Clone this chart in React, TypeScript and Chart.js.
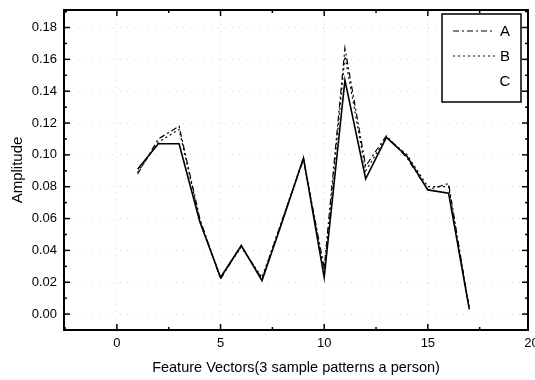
import React, { useEffect, useRef } from "react";
import { Chart, registerables } from "chart.js";

Chart.register(...registerables);

const X_VALUES = [1, 2, 3, 4, 5, 6, 7, 8, 9, 10, 11, 12, 13, 14, 15, 16, 17];
const SERIES_A = [0.088, 0.110, 0.118, 0.060, 0.022, 0.043, 0.022, 0.060, 0.097, 0.029, 0.167, 0.093, 0.112, 0.098, 0.078, 0.082, 0.003];
const SERIES_B = [0.089, 0.108, 0.116, 0.059, 0.023, 0.042, 0.023, 0.060, 0.098, 0.026, 0.162, 0.090, 0.111, 0.100, 0.080, 0.080, 0.003];
const SERIES_C = [0.091, 0.107, 0.107, 0.058, 0.023, 0.043, 0.021, 0.059, 0.098, 0.023, 0.147, 0.085, 0.111, 0.099, 0.078, 0.076, 0.003];
const SERIES_NAMES = ["A", "B", "C"];
const X_TICKS = [0, 5, 10, 15, 20];
const X_MINOR_TICKS = [-2.5, 2.5, 7.5, 12.5, 17.5];
const Y_TICKS = [0, 0.02, 0.04, 0.06, 0.08, 0.1, 0.12, 0.14, 0.16, 0.18];
const Y_MINOR_TICKS = [0.01, 0.03, 0.05, 0.07, 0.09, 0.11, 0.13, 0.15, 0.17, 0.19];
const X_MIN = -2.55;
const X_MAX = 19.83;
const Y_MIN = -0.01;
const Y_MAX = 0.191;
const X_TITLE = "Feature Vectors(3 sample patterns a person)";
const Y_TITLE = "Amplitude";

const FONT = "'Liberation Sans', Arial, sans-serif";

const framePlugin = {
  id: "frame",
  afterDatasetsDraw(chart: any) {
    const { ctx, chartArea: a, scales } = chart;
    const xs = scales.x;
    const ys = scales.y;
    ctx.save();
    ctx.strokeStyle = "#000";
    ctx.lineWidth = 1.5;
    const tick = (px: number, py: number, dx: number, dy: number) => {
      ctx.beginPath();
      ctx.moveTo(px, py);
      ctx.lineTo(px + dx, py + dy);
      ctx.stroke();
    };
    X_TICKS.forEach((v) => {
      if (v < X_MIN || v > X_MAX) return;
      const p = xs.getPixelForValue(v);
      tick(p, a.bottom, 0, -6);
      tick(p, a.top, 0, 6);
    });
    X_MINOR_TICKS.forEach((v) => {
      if (v < X_MIN || v > X_MAX) return;
      const p = xs.getPixelForValue(v);
      tick(p, a.bottom, 0, -3);
      tick(p, a.top, 0, 3);
    });
    Y_TICKS.forEach((v) => {
      if (v < Y_MIN || v > Y_MAX) return;
      const p = ys.getPixelForValue(v);
      tick(a.left, p, 6, 0);
      tick(a.right, p, -6, 0);
    });
    Y_MINOR_TICKS.forEach((v) => {
      if (v < Y_MIN || v > Y_MAX) return;
      const p = ys.getPixelForValue(v);
      tick(a.left, p, 3, 0);
      tick(a.right, p, -3, 0);
    });
    ctx.lineWidth = 2;
    ctx.strokeRect(a.left, a.top, a.right - a.left, a.bottom - a.top);

    // legend box
    const bw = 79;
    const bh = 88;
    const bx = a.right - 7 - bw;
    const by = a.top + 4;
    ctx.fillStyle = "#fff";
    ctx.fillRect(bx, by, bw, bh);
    ctx.lineWidth = 1.5;
    ctx.strokeRect(bx, by, bw, bh);
    chart.data.datasets.forEach((ds: any, i: number) => {
      const ly = by + 17 + i * 25;
      if (ds.legendLine !== false) {
        ctx.save();
        ctx.strokeStyle = ds.borderColor;
        ctx.lineWidth = 1;
        ctx.setLineDash(ds.borderDash || []);
        ctx.beginPath();
        ctx.moveTo(bx + 11, ly);
        ctx.lineTo(bx + 53, ly);
        ctx.stroke();
        ctx.restore();
      }
      ctx.fillStyle = "#000";
      ctx.font = `15px ${FONT}`;
      ctx.textAlign = "center";
      ctx.textBaseline = "middle";
      ctx.fillText(ds.label, bx + 63, ly + 1);
    });
    ctx.restore();
  },
};

export default function App() {
  const ref = useRef<HTMLCanvasElement | null>(null);
  useEffect(() => {
    if (!ref.current) return;
    const mk = (vals: number[]) => X_VALUES.map((x, i) => ({ x, y: vals[i] }));
    const chart = new Chart(ref.current, {
      type: "line",
      data: {
        datasets: [
          {
            label: SERIES_NAMES[0],
            data: mk(SERIES_A),
            borderColor: "#000",
            borderWidth: 1.2,
            borderDash: [6, 3, 2, 3],
            pointRadius: 0,
            tension: 0,
            fill: false,
          },
          {
            label: SERIES_NAMES[1],
            data: mk(SERIES_B),
            borderColor: "#000",
            borderWidth: 1.2,
            borderDash: [2, 3],
            pointRadius: 0,
            tension: 0,
            fill: false,
          },
          {
            label: SERIES_NAMES[2],
            data: mk(SERIES_C),
            borderColor: "#000",
            borderWidth: 1.6,
            pointRadius: 0,
            tension: 0,
            fill: false,
            legendLine: false,
          } as any,
        ],
      },
      options: {
        animation: false,
        responsive: true,
        maintainAspectRatio: false,
        layout: { padding: { top: 10, right: 7, left: 0, bottom: 0 } },
        plugins: {
          legend: { display: false },
          tooltip: { enabled: false },
        },
        scales: {
          x: {
            type: "linear",
            min: X_MIN,
            max: X_MAX,
            afterBuildTicks: (s: any) => {
              s.ticks = X_TICKS.map((value) => ({ value }));
            },
            afterFit: (s: any) => {
              s.height = 50;
              s.paddingLeft = 0;
              s.paddingRight = 0;
            },
            border: { display: false, dash: [1, 6] },
            grid: {
              drawTicks: false,
              color: (c: any) => (c.tick && c.tick.value > X_MAX ? "rgba(0,0,0,0)" : "#d4d4d4"),
              lineWidth: 1,
            },
            ticks: {
              autoSkip: false,
              maxRotation: 0,
              padding: 6,
              color: "#000",
              font: { family: FONT, size: 13 },
              callback: (v: any) => String(v),
            },
            title: {
              display: true,
              text: X_TITLE,
              color: "#000",
              font: { family: FONT, size: 14.5 },
              padding: { top: 0, bottom: 3 },
            },
          },
          y: {
            type: "linear",
            min: Y_MIN,
            max: Y_MAX,
            afterBuildTicks: (s: any) => {
              s.ticks = Y_TICKS.map((value) => ({ value }));
            },
            afterFit: (s: any) => {
              s.width = 64;
              s.paddingTop = 0;
              s.paddingBottom = 0;
            },
            border: { display: false, dash: [1, 6] },
            grid: {
              drawTicks: false,
              color: "#d4d4d4",
              lineWidth: 1,
            },
            ticks: {
              padding: 7,
              color: "#000",
              font: { family: FONT, size: 13 },
              callback: (v: any) => Number(v).toFixed(2),
            },
            title: {
              display: true,
              text: Y_TITLE,
              color: "#000",
              font: { family: FONT, size: 15 },
              padding: { top: 9, bottom: 0 },
            },
          },
        },
      },
      plugins: [framePlugin],
    } as any);
    return () => chart.destroy();
  }, []);

  return (
    <div style={{ position: "fixed", left: 0, top: 0, width: 535, height: 380, background: "#fff" }}>
      <canvas ref={ref} />
    </div>
  );
}
